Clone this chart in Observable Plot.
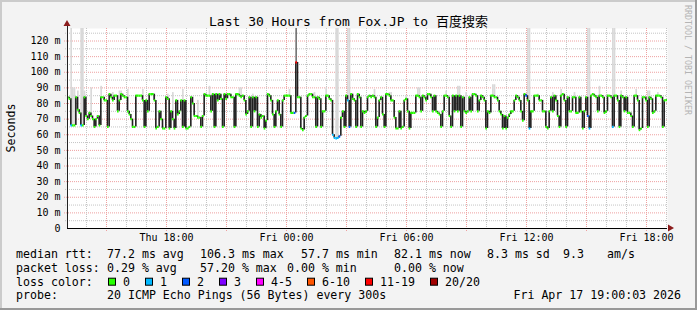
<!DOCTYPE html>
<html><head><meta charset="utf-8">
<script src="https://cdn.jsdelivr.net/npm/d3@7"></script>
<script src="https://cdn.jsdelivr.net/npm/@observablehq/plot@0.6"></script>
<style>
html,body{margin:0;padding:0;background:#f3f3f3;}
#chart{width:697px;height:310px;position:relative;overflow:hidden;}
svg{display:block;}
</style></head>
<body><div id="chart"></div>
<script>
// ---------- data ----------
const title = "Last 30 Hours from Fox.JP to 百度搜索";
const yLabel = "Seconds";
const watermark = "RRDTOOL / TOBI OETIKER";
const startTime = Date.UTC(2026, 3, 16, 13, 3); // Thu 13:03
const stepMinutes = 5;

// median RTT (ms), one value per 5-minute step, 30 hours
const median = [
84,83,66,66,66,84,76,74,66,66, 84,72,70,74,72,70,65,70,72,66,
84,84,82,82,65,86,84,82,85,85, 75,82,86,85,84,84,75,73,70,65,
65,85,85,85,85,82,65,82,75,86, 86,86,82,64,65,75,70,64,64,84,
83,64,75,70,64,82,73,75,82,65, 82,64,
64,65,84,80,72,72,71,71,65,72, 86,85,85,85,75,86,65,86,82,86,
83,65,86,83,86,86,84,84,65,86, 86,85,84,85,82,73,75,84,65,84,
75,84,65,73,71,72,64,69,86,85, 82,73,65,75,82,73,65,82,85,85,
85,85,74,74,74,106.3,84,84,64,63, 71,72,
85,86,86,84,84,65,84,83,65,75, 75,85,85,83,82,60,58,57.7,58,59,
71,75,65,85,82,65,86,83,82,65, 86,84,65,75,74,75,84,85,84,85,
84,65,71,82,84,73,65,86,86,85, 82,82,71,64,64,75,64,65,82,83,
75,64,74,74,74,85,85,84,75,85, 84,82,
86,86,84,75,85,75,74,73,65,75, 85,85,84,72,65,85,75,85,75,85,
65,84,75,74,75,84,75,86,86,85, 75,82,85,84,82,64,75,74,85,85,
84,84,82,75,73,64,72,64,71,73, 75,75,82,85,84,82,75,69,86,85,
82,64,75,75,85,85,85,82,82,75, 75,65,
64,75,84,75,85,82,72,65,85,86, 82,65,84,75,75,84,84,74,74,84,
75,64,75,84,72,64,85,86,85,84, 75,85,85,84,74,75,85,85,84,65,
85,85,82,65,85,84,75,84,74,74, 72,65,85,85,82,63,64,84,84,82,
65,84,83,74,75,85,85,85,84,65, 82,82.1
];

// packet loss (pings lost of 20) where not zero: [step index, lost]
const lossSteps = [
[2,1],[8,1],[136,2],[137,12],[159,1],[160,1],[161,1],[162,1],[163,2],
[168,1],[169,2],[275,2],[277,1],[312,2],[313,1],[327,1]
];

// smoke (ping spread) tops, ms: [step index, highest ping]
const smokeTops = [
[2,130],[3,90],[4,90],[6,88],[8,130],[9,130],[10,88],[14,90],[20,91],[27,87],
[31,88],[32,88],[36,89],[45,89],[52,86],[60,86],[63,87],[69,89],[78,82],[85,91],
[91,86],[103,90],[104,90],[111,86],[133,89],[148,87],[155,90],[161,130],[162,130],
[168,130],[169,130],[174,86],[181,85],[184,89],[193,87],[194,87],[203,85],[210,90],
[211,90],[227,88],[234,91],[235,91],[239,87],[244,86],[255,92],[256,92],[276,130],
[277,130],[282,86],[291,87],[296,89],[304,87],[312,130],[313,130],[319,91],[327,130],
[328,130],[332,88],[341,89],[348,88],[349,88],[354,87]
];
const smokeDarkTops = [[137,140]];

const yTicks = [0,10,20,30,40,50,60,70,80,90,100,110,120];
const yMinorGrid = [5,15,25,35,45,55,65,75,85,95,105,115,125];
const yMajorGrid = [10,20,30,40,50,60,70,80,90,100,110,120];

const lossLabels = ["0","1","2","3","4-5","6-10","11-19","20/20"];
const lossColors = ["#26ff00","#00b8ff","#0059ff","#7e00ff","#ff00ff","#ff5500","#ff0000","#a10000"];
const lossUpper = [0,1,2,3,5,10,19,20];

const rttLabel = "median rtt:";
const rttStats = ["77.2 ms avg","106.3 ms max","57.7 ms min","82.1 ms now","8.3 ms sd","9.3","am/s"];
const lossLabel = "packet loss:";
const lossStats = ["0.29 % avg","57.20 % max","0.00 % min","0.00 % now"];
const colorLabel = "loss color:";
const probeLabel = "probe:";
const probeText = "20 ICMP Echo Pings (56 Bytes) every 300s";
const stampText = "Fri Apr 17 19:00:03 2026";

// ---------- layout ----------
const W = 697, H = 310;
const mono = "'DejaVu Sans Mono', 'Noto Sans CJK SC', monospace";
const rttX = [107,200,301,394,487,563,607];
const lossX = [107,200,287,394];
const boxX = [108,145,182,219,256,307,365,430];
const boxLabelX = [123,160,197,234,271,322,380,445];
const rowY = [258.3,272,285.7,299.4];

// ---------- derived ----------
const stepMs = stepMinutes * 60000;
const T = i => new Date(startTime + i * stepMs);
const t0 = T(0), t1 = T(median.length);
const lossMap = new Map(lossSteps);
const lossColor = n => lossColors[lossUpper.findIndex(u => n <= u)];
const samples = median.map((v, i) => ({a: T(i), b: T(i + 1), v, loss: lossMap.get(i) ?? 0}));
const transitions = median.slice(1).map((v, k) => ({t: T(k + 1), from: median[k], to: v}));
const smokeRows = smokeTops.map(([i, hi]) => ({a: T(i), b: T(i + 1), lo: median[i], hi}));
const smokeDarkRows = smokeDarkTops.map(([i, hi]) => ({a: T(i), b: T(i + 1), lo: median[i], hi}));
const hours = d3.utcHour.range(t0, t1);
const hoursMajor = hours.filter(d => d.getUTCHours() % 3 === 0);
const hoursMinor = hours.filter(d => d.getUTCHours() % 3 !== 0);

const gridGray = "#c4c4c4", gridRed = "#eea0a0";

const plot = Plot.plot({
  width: W, height: H,
  marginLeft: 67, marginRight: 30, marginTop: 28, marginBottom: 82,
  style: {background: "#f3f3f3", fontFamily: mono, fontSize: "10px", color: "#000"},
  x: {type: "utc", domain: [t0, t1]},
  y: {domain: [0, 128]},
  marks: [
    Plot.frame({fill: "white", stroke: "none"}),
    Plot.ruleY(yMinorGrid, {stroke: gridGray, strokeDasharray: "1,1", insetLeft: -2}),
    Plot.ruleY(yMajorGrid, {stroke: gridRed, strokeDasharray: "1,1", insetLeft: -3}),
    Plot.ruleX(hoursMinor, {stroke: gridGray, strokeDasharray: "1,1", insetBottom: -2}),
    Plot.ruleX(hoursMajor, {stroke: gridRed, strokeDasharray: "1,1", insetBottom: -3}),
    Plot.rect(smokeRows, {x1: "a", x2: "b", y1: "lo", y2: "hi", fill: "#d9d9d9", clip: true}),
    Plot.rect(smokeDarkRows, {x1: "a", x2: "b", y1: "lo", y2: "hi", fill: "#777777", clip: true}),
    Plot.ruleX(transitions, {x: "t", y1: "from", y2: "to", stroke: "#202020", strokeWidth: 1.6}),
    Plot.ruleY(samples, {x1: "a", x2: "b", y: "v", stroke: d => lossColor(d.loss), strokeWidth: 2.2}),
    Plot.ruleY([0], {stroke: "#000"}),
    Plot.ruleX([t0], {stroke: "#222", insetTop: -4}),
    Plot.axisX({ticks: d3.utcHour.every(6), tickFormat: d3.utcFormat("%a %H:%M"), tickSize: 0, tickPadding: 5, label: null, fontSize: 10}),
    Plot.axisY({ticks: yTicks, tickFormat: d => d === 0 ? "0" : d + " m", tickSize: 0, tickPadding: 7, label: null, fontSize: 10})
  ]
});
document.getElementById("chart").append(plot);

// ---------- decorations & legend ----------
const svg = d3.select(plot);
const xs = plot.scale("x"), ys = plot.scale("y");
const X0 = xs.apply(t0), X1 = xs.apply(t1), Y0 = ys.apply(0), YT = ys.apply(128);

// 3D border
svg.append("rect").attr("x", 0).attr("y", 0).attr("width", W).attr("height", 2).attr("fill", "#cbcbcb");
svg.append("rect").attr("x", 0).attr("y", 0).attr("width", 2).attr("height", H).attr("fill", "#cbcbcb");
svg.append("rect").attr("x", 0).attr("y", H - 2).attr("width", W).attr("height", 2).attr("fill", "#999");
svg.append("rect").attr("x", W - 2).attr("y", 0).attr("width", 2).attr("height", H).attr("fill", "#999");

// axis arrows
const arrow = "#8b1c1c";
svg.append("path").attr("d", `M${X0 - 3.5},${YT - 2}L${X0 + 3.5},${YT - 2}L${X0},${YT - 8}Z`).attr("fill", arrow);
svg.append("path").attr("d", `M${X1 + 1},${Y0 - 3.5}L${X1 + 1},${Y0 + 3.5}L${X1 + 7},${Y0}Z`).attr("fill", arrow);

const txt = (x, y, s, size, opts = {}) => {
  const t = svg.append("text").attr("x", x).attr("y", y).text(s)
    .attr("font-family", mono).attr("font-size", size).attr("fill", opts.fill || "#000")
    .attr("text-anchor", opts.anchor || "start").style("white-space", "pre");
  if (opts.transform) t.attr("transform", opts.transform).attr("x", null).attr("y", null);
  return t;
};

txt(W / 2, 26, title, 13, {anchor: "middle"});
txt(0, 0, yLabel, 11.6, {anchor: "middle", transform: `translate(15,${(Y0 + YT) / 2}) rotate(-90)`});
txt(0, 0, watermark, 8.3, {fill: "#b4b4b4", transform: `translate(685,5) rotate(90)`});

txt(16, rowY[0], rttLabel, 11.6);
rttStats.forEach((s, i) => txt(rttX[i], rowY[0], s, 11.6));
txt(16, rowY[1], lossLabel, 11.6);
lossStats.forEach((s, i) => txt(lossX[i], rowY[1], s, 11.6));
txt(16, rowY[2], colorLabel, 11.6);
lossLabels.forEach((s, i) => {
  svg.append("rect").attr("x", boxX[i] + 0.5).attr("y", rowY[2] - 7.5).attr("width", 7).attr("height", 7)
    .attr("fill", lossColors[i]).attr("stroke", "#000").attr("stroke-width", 1);
  txt(boxLabelX[i], rowY[2], s, 11.6);
});
txt(16, rowY[3], probeLabel, 11.6);
txt(107, rowY[3], probeText, 11.6);
txt(681, rowY[3], stampText, 11.6, {anchor: "end"});
</script>
</body></html>
